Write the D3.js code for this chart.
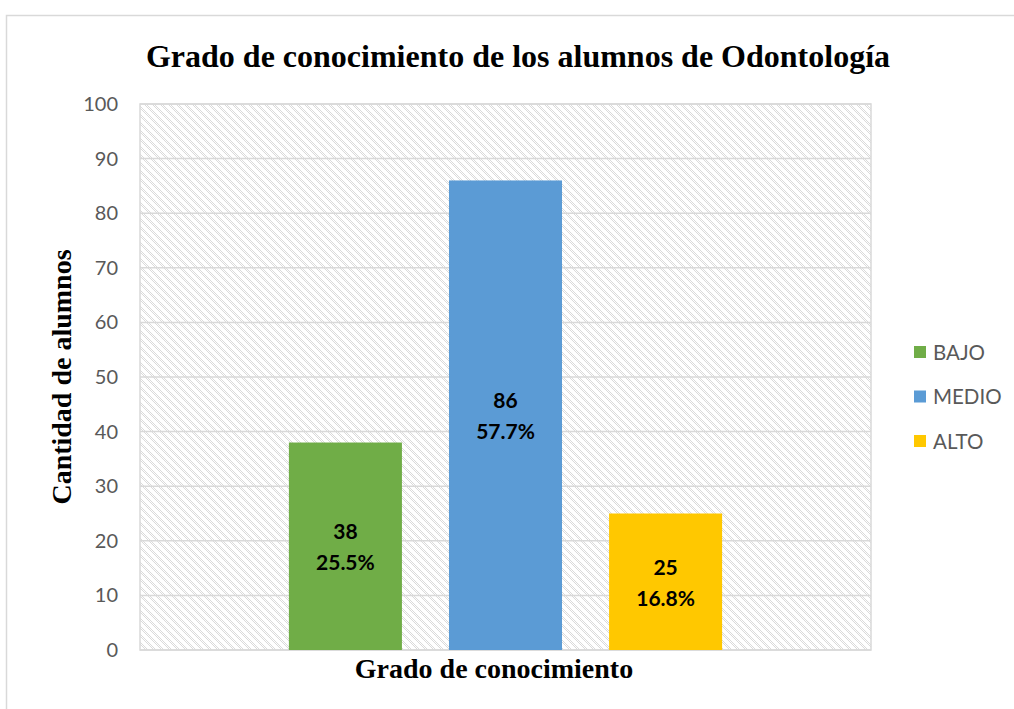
<!DOCTYPE html>
<html>
<head>
<meta charset="utf-8">
<script src="https://cdn.jsdelivr.net/npm/d3@7"></script>
<style>
  body { margin: 0; background: #fff; }
  svg { display: block; }
</style>
</head>
<body>
<svg id="chart" width="1014" height="709"></svg>
<script>
// chart data
const series = ['BAJO', 'MEDIO', 'ALTO'];
const counts = [38, 86, 25];
const colors = ['#70ad47', '#5b9bd5', '#ffc800'];
const yTicks = [0, 10, 20, 30, 40, 50, 60, 70, 80, 90, 100];

const svg = d3.select('#chart');
const plot = { left: 140, top: 104, right: 871, bottom: 650 };
const total = d3.sum(counts);

// outer chart border
svg.append('rect')
  .attr('x', 6.5).attr('y', 15.5)
  .attr('width', 1020).attr('height', 720)
  .attr('fill', '#fff')
  .attr('stroke', '#d9d9d9')
  .attr('stroke-width', 1.5);

// hatched background pattern
const defs = svg.append('defs');
const pat = defs.append('pattern')
  .attr('id', 'hatch')
  .attr('patternUnits', 'userSpaceOnUse')
  .attr('width', 8).attr('height', 8);
pat.append('rect').attr('width', 8).attr('height', 8).attr('fill', '#fff');
for (let y = 0; y < 8; y++) {
  [0, 2].forEach(k => {
    pat.append('rect')
      .attr('x', (y + k) % 8).attr('y', y)
      .attr('width', 1).attr('height', 1)
      .attr('fill', '#dadada');
  });
}

svg.append('rect')
  .attr('x', plot.left).attr('y', plot.top)
  .attr('width', plot.right - plot.left)
  .attr('height', plot.bottom - plot.top)
  .attr('fill', 'url(#hatch)')
  .attr('stroke', '#d9d9d9')
  .attr('stroke-width', 1.5);

// scales
const y = d3.scaleLinear().domain([0, 100]).range([plot.bottom, plot.top]);
const x = d3.scaleBand()
  .domain(series)
  .range([plot.left, plot.right])
  .paddingInner(0.294)
  .paddingOuter(0.93);

// gridlines
svg.append('g')
  .selectAll('line')
  .data(yTicks)
  .join('line')
  .attr('x1', plot.left).attr('x2', plot.right)
  .attr('y1', d => y(d)).attr('y2', d => y(d))
  .attr('stroke', '#d9d9d9')
  .attr('stroke-width', 1.5);

// y axis labels
const yAxis = svg.append('g')
  .attr('transform', `translate(${plot.left - 22},0)`)
  .call(d3.axisLeft(y).tickValues(yTicks).tickSize(0).tickPadding(0));
yAxis.select('.domain').remove();
yAxis.selectAll('text')
  .attr('fill', '#595959')
  .attr('font-family', 'Lato, "Open Sans", sans-serif')
  .attr('font-size', 20);

// bars
svg.append('g')
  .selectAll('rect')
  .data(series)
  .join('rect')
  .attr('x', d => x(d))
  .attr('width', x.bandwidth())
  .attr('y', (d, i) => y(counts[i]))
  .attr('height', (d, i) => y(0) - y(counts[i]))
  .attr('fill', (d, i) => colors[i]);

// bar labels
const labels = svg.append('g')
  .selectAll('text')
  .data(series)
  .join('text')
  .attr('text-anchor', 'middle')
  .attr('font-family', 'Lato, "Open Sans", sans-serif')
  .attr('font-weight', 'bold')
  .attr('font-size', 21)
  .attr('fill', '#000');
labels.append('tspan')
  .attr('x', d => x(d) + x.bandwidth() / 2)
  .attr('y', (d, i) => (y(counts[i]) + y(0)) / 2 - 7)
  .text((d, i) => counts[i]);
labels.append('tspan')
  .attr('x', d => x(d) + x.bandwidth() / 2)
  .attr('y', (d, i) => (y(counts[i]) + y(0)) / 2 + 24)
  .text((d, i) => (counts[i] / total * 100).toFixed(1) + '%');

// title
svg.append('text')
  .attr('x', 518).attr('y', 67)
  .attr('text-anchor', 'middle')
  .attr('font-family', '"Liberation Serif", "Times New Roman", serif')
  .attr('font-weight', 'bold')
  .attr('font-size', 32)
  .text('Grado de conocimiento de los alumnos de Odontología');

// axis titles
svg.append('text')
  .attr('x', 494).attr('y', 678)
  .attr('text-anchor', 'middle')
  .attr('font-family', '"Liberation Serif", "Times New Roman", serif')
  .attr('font-weight', 'bold')
  .attr('font-size', 28)
  .text('Grado de conocimiento');

svg.append('text')
  .attr('transform', 'translate(71,377) rotate(-90)')
  .attr('text-anchor', 'middle')
  .attr('font-family', '"Liberation Serif", "Times New Roman", serif')
  .attr('font-weight', 'bold')
  .attr('font-size', 28)
  .text('Cantidad de alumnos');

// legend
const legend = svg.append('g')
  .selectAll('g')
  .data(series)
  .join('g')
  .attr('transform', (d, i) => `translate(914,${352 + i * 44.5})`);
legend.append('rect')
  .attr('x', 0).attr('y', -6)
  .attr('width', 12).attr('height', 12)
  .attr('fill', (d, i) => colors[i]);
legend.append('text')
  .attr('x', 19).attr('y', 7.5)
  .attr('fill', '#595959')
  .attr('font-family', 'Lato, "Open Sans", sans-serif')
  .attr('font-size', 20.5)
  .text(d => d);
</script>
</body>
</html>
